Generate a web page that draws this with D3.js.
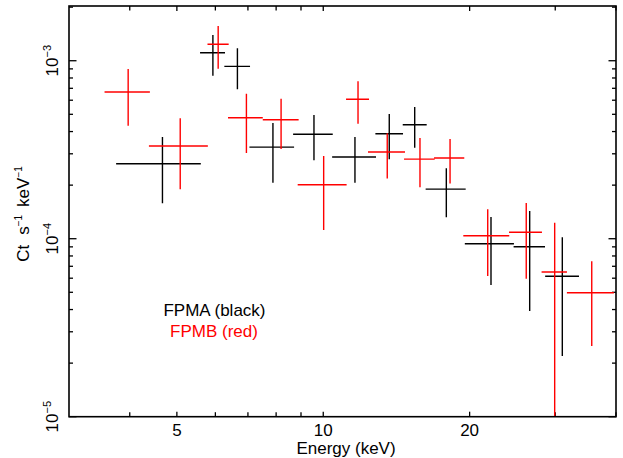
<!DOCTYPE html>
<html lang="en">
<head>
<meta charset="UTF-8">
<title>FPMA / FPMB spectrum</title>
<script src="https://cdnjs.cloudflare.com/ajax/libs/d3/7.8.5/d3.min.js"></script>
<style>
    * { margin: 0; padding: 0; }
    body { background: #fff; }
    text { font-family: "Liberation Sans", Arial, sans-serif; }
</style>
</head>
<body>
<div id="content"></div>
<script>
    // FPMA (black) - energy bin centre / edges (keV), rate and its error range
    var fpmaE   = [4.67, 5.93, 6.66, 7.88, 9.57, 11.62, 13.67, 15.42, 17.91, 22.13, 26.58, 31.02];
    var fpmaElo = [3.75, 5.58, 6.26, 7.05, 8.67, 10.43, 12.80, 14.57, 16.24, 19.55, 24.63, 28.60];
    var fpmaEhi = [5.60, 6.28, 7.07, 8.71, 10.46, 12.84, 14.59, 16.32, 19.63, 24.67, 28.58, 33.57];
    var fpmaY   = [2.64e-4, 1.109e-3, 9.30e-4, 3.27e-4, 3.86e-4, 2.88e-4, 3.89e-4, 4.37e-4, 1.90e-4, 9.37e-5, 9.02e-5, 6.15e-5];
    var fpmaYlo = [1.58e-4, 8.23e-4, 6.91e-4, 2.06e-4, 2.76e-4, 2.06e-4, 2.80e-4, 3.24e-4, 1.319e-4, 5.49e-5, 3.93e-5, 2.19e-5];
    var fpmaYhi = [3.73e-4, 1.394e-3, 1.174e-3, 4.47e-4, 4.95e-4, 3.73e-4, 5.02e-4, 5.49e-4, 2.485e-4, 1.324e-4, 1.43e-4, 1.018e-4];

    // FPMB (red)
    var fpmbE   = [3.97, 5.08, 6.08, 6.95, 8.19, 10.02, 11.79, 13.54, 15.81, 18.23, 21.79, 26.15, 29.92, 35.66];
    var fpmbElo = [3.55, 4.38, 5.78, 6.37, 7.51, 8.86, 11.14, 12.36, 14.66, 16.90, 19.41, 24.10, 28.12, 31.70];
    var fpmbEhi = [4.40, 5.79, 6.39, 7.51, 8.90, 11.17, 12.42, 14.73, 16.95, 19.50, 24.13, 28.17, 31.71, 39.60];
    var fpmbY   = [6.67e-4, 3.32e-4, 1.237e-3, 4.78e-4, 4.66e-4, 2.01e-4, 6.07e-4, 3.07e-4, 2.80e-4, 2.84e-4, 1.04e-4, 1.087e-4, 6.50e-5, 4.97e-5];
    var fpmbYlo = [4.31e-4, 1.894e-4, 9.02e-4, 3.03e-4, 3.19e-4, 1.119e-4, 4.42e-4, 2.18e-4, 1.944e-4, 2.04e-4, 6.17e-5, 5.96e-5, 5e-6, 2.495e-5];
    var fpmbYhi = [8.98e-4, 4.75e-4, 1.567e-3, 6.53e-4, 6.12e-4, 2.915e-4, 7.66e-4, 3.91e-4, 3.68e-4, 3.63e-4, 1.463e-4, 1.587e-4, 1.23e-4, 7.46e-5];

    // axis ticks
    var xMajor = [5, 10, 20];
    var xMinor = [4, 6, 7, 8, 9, 30, 40];
    var yMajor = [1e-5, 1e-4, 1e-3];
    var yExp   = ["\u22125", "\u22124", "\u22123"];

    var width = 623, height = 458;
    var plot = {left: 69, right: 616, top: 6, bottom: 416.7};

    var svg = d3.select("#content").append("svg")
            .attr("width", width).attr("height", height);

    var xScale = d3.scaleLog().domain([3, 40]).range([plot.left, plot.right]);
    var yScale = d3.scaleLog().domain([1e-5, 2.03e-3]).range([plot.bottom, plot.top]);

    // minor y ticks 2..9 per decade
    var yMinor = [];
    [1e-5, 1e-4, 1e-3].forEach(function(dec){
        for (var k = 2; k <= 9; k++) {
            if (k * dec < 2.03e-3) yMinor.push(k * dec);
        }
    });

    svg.append("clipPath").attr("id", "clip")
        .append("rect")
        .attr("x", plot.left).attr("y", plot.top)
        .attr("width", plot.right - plot.left).attr("height", plot.bottom - plot.top);

    /* ticks, pointing inwards on all four sides */
    function tickLines(vals, len, horizontal){
        var g = svg.append("g").attr("stroke", "black").attr("stroke-width", 1.3);
        vals.forEach(function(v){
            if (horizontal) {
                var x = xScale(v);
                g.append("line").attr("x1", x).attr("x2", x).attr("y1", plot.bottom).attr("y2", plot.bottom - len);
                g.append("line").attr("x1", x).attr("x2", x).attr("y1", plot.top).attr("y2", plot.top + len);
            } else {
                var y = yScale(v);
                g.append("line").attr("y1", y).attr("y2", y).attr("x1", plot.left).attr("x2", plot.left + len);
                g.append("line").attr("y1", y).attr("y2", y).attr("x1", plot.right).attr("x2", plot.right - len);
            }
        });
    }
    tickLines(xMajor, 5, true);
    tickLines(xMinor, 4.5, true);
    tickLines(yMajor, 7.5, false);
    tickLines(yMinor, 4, false);

    // x tick labels
    svg.append("g").selectAll("text").data(xMajor).enter().append("text")
        .attr("x", function(d){ return xScale(d); })
        .attr("y", 435.5)
        .attr("text-anchor", "middle")
        .attr("font-size", 17)
        .text(function(d){ return d; });

    // y tick labels (rotated, 10^n)
    yMajor.forEach(function(v, i){
        var t = svg.append("text")
            .attr("transform", "translate(57.5," + yScale(v) + ") rotate(-90)")
            .attr("text-anchor", "middle")
            .attr("font-size", 17);
        t.append("tspan").text("10");
        t.append("tspan").attr("font-size", 11).attr("dy", -7).text(yExp[i]);
    });

    // axis titles
    svg.append("text")
        .attr("x", 346).attr("y", 454)
        .attr("text-anchor", "middle")
        .attr("font-size", 17)
        .text("Energy (keV)");

    var yt = svg.append("text")
        .attr("transform", "translate(28.5,214) rotate(-90)")
        .attr("text-anchor", "middle")
        .attr("font-size", 17);
    yt.append("tspan").text("Ct");
    yt.append("tspan").attr("dx", 10).text("s");
    yt.append("tspan").attr("font-size", 10).attr("dy", -7).text("\u22121");
    yt.append("tspan").attr("dy", 7).attr("dx", 8).text("keV");
    yt.append("tspan").attr("font-size", 10).attr("dy", -7).text("\u22121");

    /* error crosses */
    function drawSeries(E, Elo, Ehi, Y, Ylo, Yhi, color){
        var g = svg.append("g").attr("clip-path", "url(#clip)")
            .attr("stroke", color).attr("stroke-width", 1.4);
        var idx = d3.range(E.length);
        g.selectAll("line.h").data(idx).enter().append("line")
            .attr("x1", function(i){ return xScale(Elo[i]); })
            .attr("x2", function(i){ return xScale(Ehi[i]); })
            .attr("y1", function(i){ return yScale(Y[i]); })
            .attr("y2", function(i){ return yScale(Y[i]); });
        g.selectAll("line.v").data(idx).enter().append("line")
            .attr("x1", function(i){ return xScale(E[i]); })
            .attr("x2", function(i){ return xScale(E[i]); })
            .attr("y1", function(i){ return yScale(Ylo[i]); })
            .attr("y2", function(i){ return yScale(Yhi[i]); });
    }
    drawSeries(fpmaE, fpmaElo, fpmaEhi, fpmaY, fpmaYlo, fpmaYhi, "black");
    drawSeries(fpmbE, fpmbElo, fpmbEhi, fpmbY, fpmbYlo, fpmbYhi, "#ff0000");

    // frame
    svg.append("rect")
        .attr("x", plot.left).attr("y", plot.top)
        .attr("width", plot.right - plot.left).attr("height", plot.bottom - plot.top)
        .attr("fill", "none").attr("stroke", "black").attr("stroke-width", 1.6);

    // legend text
    svg.append("text").attr("x", 214.5).attr("y", 315.7)
        .attr("text-anchor", "middle").attr("font-size", 17)
        .attr("fill", "black").text("FPMA (black)");
    svg.append("text").attr("x", 214).attr("y", 337)
        .attr("text-anchor", "middle").attr("font-size", 17)
        .attr("fill", "#ff0000").text("FPMB (red)");
</script>
</body>
</html>
